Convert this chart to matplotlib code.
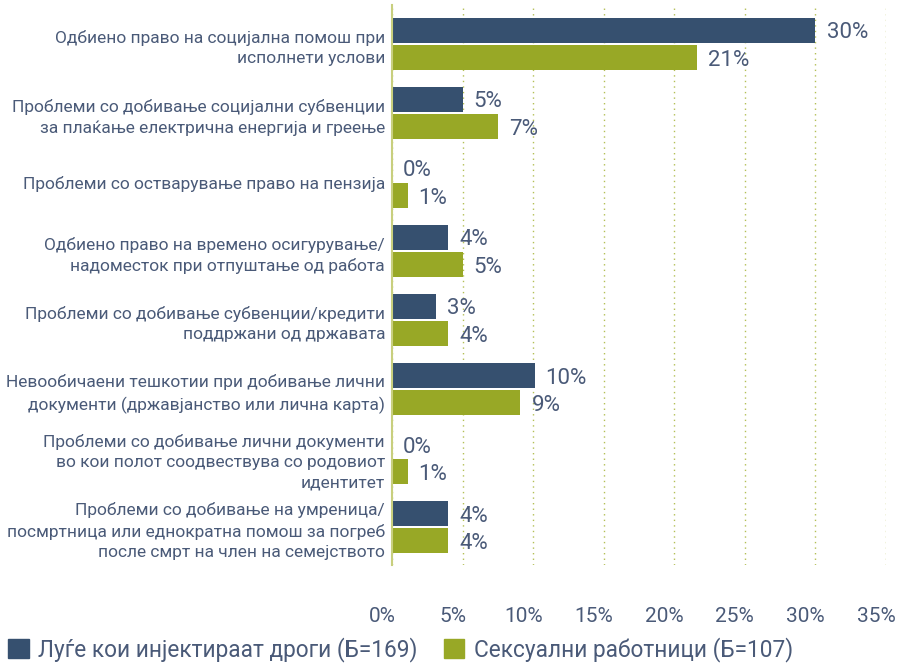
import matplotlib
matplotlib.use("Agg")
import matplotlib.pyplot as plt
from matplotlib.patches import Patch
import matplotlib.transforms as mtransforms
import numpy as np

categories = [
    "Одбиено право на социјална помош при\nисполнети услови",
    "Проблеми со добивање социјални субвенции\nза плаќање електрична енергија и греење",
    "Проблеми со остварување право на пензија",
    "Одбиено право на времено осигурување/\nнадоместок при отпуштање од работа",
    "Проблеми со добивање субвенции/кредити\nподдржани од државата",
    "Невообичаени тешкотии при добивање лични\nдокументи (државјанство или лична карта)",
    "Проблеми со добивање лични документи\nво кои полот соодвествува со родовиот\nидентитет",
    "Проблеми со добивање на умреница/\nпосмртница или еднократна помош за погреб\nпосле смрт на член на семејството",
]
series_names = ["Луѓе кои инјектираат дроги (Б=169)", "Сексуални работници (Б=107)"]
pwid = [30.0, 5.0, 0.0, 4.0, 3.1, 10.1, 0.0, 4.0]
sw = [21.6, 7.5, 1.1, 5.0, 4.0, 9.1, 1.1, 4.0]
pwid_labels = ["30%", "5%", "0%", "4%", "3%", "10%", "0%", "4%"]
sw_labels = ["21%", "7%", "1%", "5%", "4%", "9%", "1%", "4%"]
xticks = [0, 5, 10, 15, 20, 25, 30, 35]

BLUE = "#36506f"
GREEN = "#98a826"
TXT = "#4a5a78"
plt.rcParams['font.family'] = ['Roboto', 'DejaVu Sans']

fig = plt.figure(figsize=(9.01, 6.69), dpi=100)
ax = fig.add_axes([392/901, 1-565/669, (886-392)/901, 560/669])

y = np.arange(len(categories))
h = 0.36
off = 0.2
ax.barh(y - off, pwid, height=h, color=BLUE)
ax.barh(y + off, sw, height=h, color=GREEN)

for i in range(len(categories)):
    ax.annotate(pwid_labels[i], (pwid[i], y[i] - off), xytext=(8, -2), textcoords='offset points',
                va='center', ha='left', fontsize=16, color=TXT)
    ax.annotate(sw_labels[i], (sw[i], y[i] + off), xytext=(8, -2), textcoords='offset points',
                va='center', ha='left', fontsize=16, color=TXT)

ax.set_xlim(0, 35)
ax.set_ylim(7.55, -0.565)
ax.set_yticks(y)
ax.set_yticklabels(categories, fontsize=12.5, color=TXT, linespacing=1.45)
ax.set_xticks(xticks)
ax.set_xticklabels([f"{t}%" for t in xticks], fontsize=15, color=TXT)
ax.tick_params(axis='y', length=0, pad=5)
ax.tick_params(axis='x', length=0, pad=30)
shift = mtransforms.ScaledTranslation(-10/100, 0, fig.dpi_scale_trans)
for lbl in ax.get_xticklabels():
    lbl.set_transform(lbl.get_transform() + shift)
for s in ['top', 'right', 'bottom']:
    ax.spines[s].set_visible(False)
ax.spines['left'].set_color('#c8cf7e')
ax.spines['left'].set_linewidth(1.5)
ax.grid(axis='x', linestyle=(0, (1, 3)), color='#b3bf55', linewidth=1)
ax.set_axisbelow(True)

handles = [Patch(color=BLUE), Patch(color=GREEN)]
fig.legend(handles, series_names, loc='lower left', bbox_to_anchor=(0.004, 0.004), ncol=2,
           frameon=False, fontsize=16.3, labelcolor=TXT, handlelength=0.9, handleheight=0.9,
           handletextpad=0.4, columnspacing=1.2, borderaxespad=0.0, borderpad=0.2)

fig.savefig("out.png", dpi=100)
